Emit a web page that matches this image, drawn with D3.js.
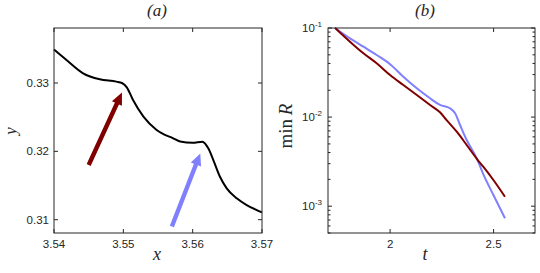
<!DOCTYPE html>
<html>
<head>
<meta charset="utf-8">
<script src="https://cdn.jsdelivr.net/npm/d3@7"></script>
<style>
  body { margin: 0; background: #fff; }
  text { fill: #262626; }
  .tick-label { font-family: "Liberation Sans", Arial, sans-serif; font-size: 11.5px; }
  .math { font-family: "Liberation Serif", "Times New Roman", serif; font-style: italic; }
</style>
</head>
<body>
<svg id="chart" width="540" height="273"></svg>
<script>
// panel (a): interface shape y(x)
var curveX = [3.540, 3.5418, 3.5442, 3.5466, 3.5490, 3.5498, 3.5505, 3.5514, 3.5529, 3.5548,
              3.5572, 3.5582, 3.5600, 3.5614, 3.56225, 3.56298, 3.56394, 3.56491, 3.56635, 3.56779,
              3.56924, 3.570];
var curveY = [0.3349, 0.33337, 0.33142, 0.33054, 0.3302, 0.3300, 0.32937, 0.3275, 0.32507, 0.32312,
              0.3219, 0.32145, 0.32126, 0.32141, 0.32044, 0.31873, 0.31628, 0.31458, 0.31312, 0.31214,
              0.31141, 0.31107];
// arrows: [tailX, tailY, tipX, tipY]
var redArrow = [3.545, 0.318, 3.5498, 0.3286];
var blueArrow = [3.557, 0.309, 3.5611, 0.3197];
var xTicksA = [3.54, 3.55, 3.56, 3.57];
var yTicksA = [0.31, 0.32, 0.33];

// panel (b): min R against t (log10 values)
var tRed  = [1.734, 1.806, 1.871, 1.935, 2.000, 2.064, 2.129, 2.193, 2.241, 2.273, 2.322, 2.370, 2.418, 2.450, 2.499, 2.555];
var logRRed = [-1, -1.154, -1.284, -1.396, -1.528, -1.640, -1.752, -1.864, -1.946, -2.033, -2.164, -2.313, -2.465, -2.557, -2.706, -2.894];
var tBlue = [1.734, 1.806, 1.871, 1.935, 2.000, 2.064, 2.129, 2.193, 2.241, 2.289, 2.314, 2.338, 2.370, 2.418, 2.450, 2.499, 2.555];
var logRBlue = [-1, -1.116, -1.210, -1.303, -1.407, -1.547, -1.677, -1.789, -1.864, -1.901, -1.958, -2.089, -2.257, -2.46, -2.64, -2.874, -3.136];
var xTicksB = [2, 2.5];
var yTicksB = [-1, -2, -3];   // exponents

var RED = "#800000", BLUE = "#8080ff", INK = "#262626";
var svg = d3.select("#chart");

// ---------- panel (a) ----------
var xa = d3.scaleLinear().domain([3.54, 3.57]).range([54, 262]);
var ya = d3.scaleLinear().domain([0.30805, 0.33805]).range([233, 28]);
var ga = svg.append("g");

ga.append("path")
  .datum(d3.zip(curveX, curveY))
  .attr("fill", "none")
  .attr("stroke", "#000")
  .attr("stroke-width", 2)
  .attr("d", d3.line().x(function(d){ return xa(d[0]); }).y(function(d){ return ya(d[1]); })
    .curve(d3.curveMonotoneX));

function arrow(g, a, sx, sy, color) {
  var x0 = sx(a[0]), y0 = sy(a[1]), x1 = sx(a[2]), y1 = sy(a[3]);
  var dx = x1 - x0, dy = y1 - y0, L = Math.sqrt(dx*dx + dy*dy);
  var ux = dx / L, uy = dy / L, px = -uy, py = ux;
  var hw = 2.2, headL = 12, headW = 5.5;
  var bx = x1 - ux*headL, by = y1 - uy*headL;
  var pts = [
    [x0 + px*hw, y0 + py*hw], [bx + px*hw, by + py*hw], [bx + px*headW, by + py*headW],
    [x1, y1],
    [bx - px*headW, by - py*headW], [bx - px*hw, by - py*hw], [x0 - px*hw, y0 - py*hw]
  ];
  g.append("polygon").attr("points", pts.map(function(p){ return p.join(","); }).join(" "))
    .attr("fill", color);
}
arrow(ga, redArrow, xa, ya, RED);
arrow(ga, blueArrow, xa, ya, BLUE);

// frame + ticks
ga.append("rect").attr("x", 54).attr("y", 28).attr("width", 208).attr("height", 205)
  .attr("fill", "none").attr("stroke", INK).attr("stroke-width", 1);
xTicksA.forEach(function(v){
  var x = xa(v);
  ga.append("line").attr("x1", x).attr("x2", x).attr("y1", 233).attr("y2", 229).attr("stroke", INK);
  ga.append("line").attr("x1", x).attr("x2", x).attr("y1", 28).attr("y2", 32).attr("stroke", INK);
  ga.append("text").attr("class", "tick-label").attr("x", x).attr("y", 248)
    .attr("text-anchor", "middle").text(d3.format(".2f")(v));
});
yTicksA.forEach(function(v){
  var y = ya(v);
  ga.append("line").attr("x1", 54).attr("x2", 58).attr("y1", y).attr("y2", y).attr("stroke", INK);
  ga.append("line").attr("x1", 262).attr("x2", 258).attr("y1", y).attr("y2", y).attr("stroke", INK);
  ga.append("text").attr("class", "tick-label").attr("x", 49).attr("y", y + 4)
    .attr("text-anchor", "end").text(d3.format(".2f")(v));
});
ga.append("text").attr("class", "math").attr("x", 157).attr("y", 16).attr("font-size", 17)
  .attr("text-anchor", "middle").text("(a)");
ga.append("text").attr("class", "math").attr("x", 157).attr("y", 260).attr("font-size", 18)
  .attr("text-anchor", "middle").text("x");
ga.append("text").attr("class", "math").attr("font-size", 17)
  .attr("transform", "translate(16,131) rotate(-90)")
  .attr("text-anchor", "middle").text("y");

// ---------- panel (b) ----------
var xb = d3.scaleLinear().domain([1.7, 2.7]).range([328, 535]);
var yb = d3.scaleLog().domain([5e-4, 0.1]).range([233, 28]);
var gb = svg.append("g");

var lineB = d3.line().x(function(d){ return xb(d[0]); }).y(function(d){ return yb(Math.pow(10, d[1])); })
  .curve(d3.curveMonotoneX);
gb.append("path").datum(d3.zip(tBlue, logRBlue))
  .attr("fill", "none").attr("stroke", BLUE).attr("stroke-width", 2).attr("d", lineB);
gb.append("path").datum(d3.zip(tRed, logRRed))
  .attr("fill", "none").attr("stroke", RED).attr("stroke-width", 2).attr("d", lineB);

gb.append("rect").attr("x", 328).attr("y", 28).attr("width", 207).attr("height", 205)
  .attr("fill", "none").attr("stroke", INK).attr("stroke-width", 1);
xTicksB.forEach(function(v){
  var x = xb(v);
  gb.append("line").attr("x1", x).attr("x2", x).attr("y1", 233).attr("y2", 229).attr("stroke", INK);
  gb.append("line").attr("x1", x).attr("x2", x).attr("y1", 28).attr("y2", 32).attr("stroke", INK);
  gb.append("text").attr("class", "tick-label").attr("x", x).attr("y", 248)
    .attr("text-anchor", "middle").text(String(v));
});
// major and minor log ticks
yb.ticks().forEach(function(v){
  var y = yb(v);
  var major = Math.abs(Math.log10(v) - Math.round(Math.log10(v))) < 1e-9;
  var len = major ? 4 : 2.5;
  gb.append("line").attr("x1", 328).attr("x2", 328 + len).attr("y1", y).attr("y2", y).attr("stroke", INK);
  gb.append("line").attr("x1", 535).attr("x2", 535 - len).attr("y1", y).attr("y2", y).attr("stroke", INK);
});
yTicksB.forEach(function(e){
  var y = yb(Math.pow(10, e));
  var t = gb.append("text").attr("class", "tick-label").attr("x", 322).attr("y", y + 4)
    .attr("text-anchor", "end");
  t.append("tspan").text("10");
  t.append("tspan").attr("dy", -5).attr("font-size", 8).text(String(e));
});
gb.append("text").attr("class", "math").attr("x", 425).attr("y", 16).attr("font-size", 17)
  .attr("text-anchor", "middle").text("(b)");
gb.append("text").attr("class", "math").attr("x", 425).attr("y", 260).attr("font-size", 18)
  .attr("text-anchor", "middle").text("t");
var lab = gb.append("text").attr("font-size", 19)
  .attr("transform", "translate(292,126) rotate(-90)")
  .attr("text-anchor", "middle")
  .style("font-family", "'Liberation Serif', 'Times New Roman', serif");
lab.append("tspan").text("min\u2009");
lab.append("tspan").attr("font-style", "italic").text("R");
</script>
</body>
</html>
